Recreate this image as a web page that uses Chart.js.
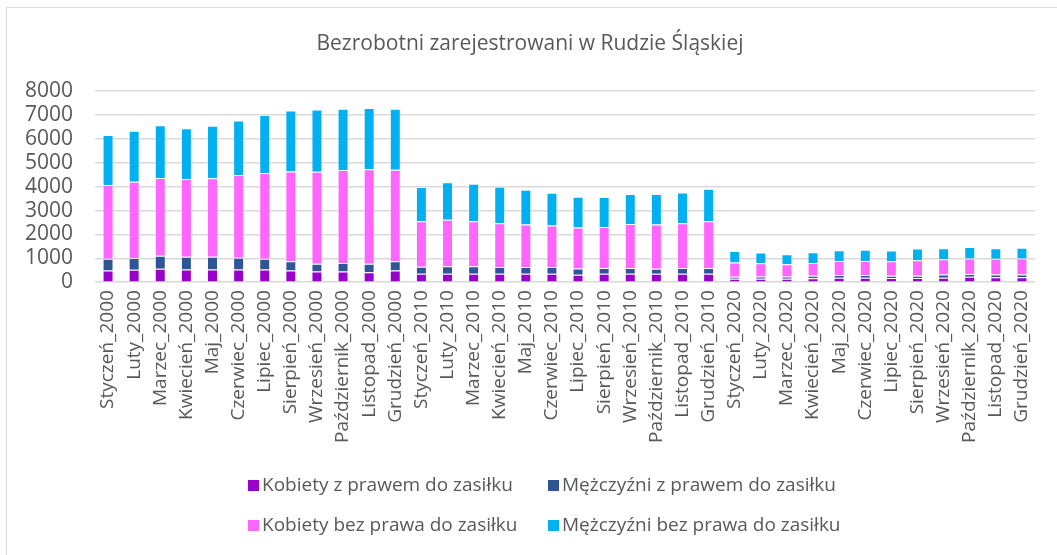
<!DOCTYPE html>
<html>
<head>
<meta charset="utf-8">
<script src="https://cdn.jsdelivr.net/npm/chart.js@4.4.1/dist/chart.umd.min.js"></script>
<style>
    body { margin: 0; background: #fff; }
    #wrap { position: relative; width: 1057px; height: 555px; overflow: hidden; }
    #frame { position: absolute; left: 6px; top: 7px; width: 1100px; height: 600px;
             border-left: 1.5px solid #d9d9d9; border-top: 1.5px solid #d9d9d9; }
    #legend { position: absolute; left: 0; top: 0; font-family: "Open Sans", sans-serif;
              font-size: 19px; color: #595959; }
    .item { position: absolute; white-space: nowrap; line-height: 24px; }
    .box { display: inline-block; width: 11px; height: 11px; margin-right: 3px; vertical-align: 0px; }
</style>
</head>
<body>
<div id="wrap">
    <div id="frame"></div>
    <canvas id="bezrobotniChart" width="1057" height="555"></canvas>
    <div id="legend"></div>
</div>
<script>
// Dane
const months = ['Styczeń', 'Luty', 'Marzec', 'Kwiecień', 'Maj', 'Czerwiec', 'Lipiec',
                'Sierpień', 'Wrzesień', 'Październik', 'Listopad', 'Grudzień'];
const years = ['2000', '2010', '2020'];

const kobietyZPrawem = [
    490, 520, 560, 530, 530, 530, 530, 490, 450, 450, 410, 490,
    350, 350, 350, 350, 350, 350, 310, 350, 350, 350, 350, 350,
    145, 145, 145, 160, 185, 185, 170, 170, 185, 230, 200, 200
];
const mezczyzniZPrawem = [
    490, 490, 545, 530, 530, 490, 450, 390, 320, 350, 360, 390,
    295, 320, 320, 280, 280, 280, 265, 240, 240, 210, 240, 240,
    85, 95, 95, 110, 115, 115, 100, 100, 130, 115, 115, 115
];
const kobietyBezPrawa = [
    3090, 3200, 3260, 3260, 3290, 3470, 3590, 3760, 3850, 3900, 3960, 3830,
    1910, 1940, 1880, 1840, 1780, 1740, 1710, 1725, 1850, 1850, 1880, 1960,
    590, 550, 510, 530, 590, 590, 605, 645, 645, 645, 660, 675
];
const mezczyzniBezPrawa = [
    2100, 2130, 2210, 2130, 2200, 2280, 2430, 2550, 2610, 2560, 2570, 2550,
    1430, 1570, 1570, 1530, 1460, 1375, 1290, 1250, 1250, 1280, 1290, 1360,
    480, 450, 420, 455, 450, 465, 450, 495, 465, 480, 450, 450
];

const labels = [];
years.forEach(function(y) {
    months.forEach(function(m) { labels.push(m + '_' + y); });
});

const fontFamily = '"Open Sans", sans-serif';
const textColor = '#595959';

document.addEventListener('DOMContentLoaded', function() {
    const ctx = document.getElementById('bezrobotniChart');
    const chart = new Chart(ctx, {
        type: 'bar',
        data: {
            labels: labels,
            datasets: [
                { label: 'Kobiety z prawem do zasiłku', data: kobietyZPrawem, backgroundColor: '#9900cc' },
                { label: 'Mężczyźni z prawem do zasiłku', data: mezczyzniZPrawem, backgroundColor: '#2f5597' },
                { label: 'Kobiety bez prawa do zasiłku', data: kobietyBezPrawa, backgroundColor: '#ff66ff' },
                { label: 'Mężczyźni bez prawa do zasiłku', data: mezczyzniBezPrawa, backgroundColor: '#00b0f0' }
            ].map(function(ds) {
                ds.borderColor = 'rgba(255,255,255,0.3)';
                ds.borderWidth = 1;
                ds.barPercentage = 0.42;
                ds.categoryPercentage = 1;
                return ds;
            })
        },
        options: {
            responsive: false,
            animation: false,
            layout: { padding: { top: 8, left: 25, right: 22, bottom: 104 } },
            scales: {
                x: {
                    stacked: true,
                    grid: { display: false, drawTicks: false },
                    border: { display: false },
                    ticks: {
                        autoSkip: false,
                        minRotation: 90,
                        maxRotation: 90,
                        padding: 8,
                        color: textColor,
                        font: { family: fontFamily, size: 19 }
                    }
                },
                y: {
                    stacked: true,
                    min: 0,
                    max: 8000,
                    grid: { color: '#d9d9d9', lineWidth: 1.5, drawTicks: false },
                    border: { display: false },
                    afterFit: function(scale) { scale.width = 70; },
                    ticks: {
                        stepSize: 1000,
                        autoSkip: false,
                        padding: 22,
                        color: textColor,
                        font: { family: fontFamily, size: 21 },
                        callback: function(value) { return String(value); }
                    }
                }
            },
            plugins: {
                legend: { display: false },
                tooltip: { enabled: false },
                title: {
                    display: true,
                    text: 'Bezrobotni zarejestrowani w Rudzie Śląskiej',
                    color: textColor,
                    font: { family: fontFamily, size: 21, weight: 'normal' },
                    padding: { top: 23, bottom: 35 }
                }
            }
        }
    });

    // legenda w dwóch kolumnach, jak w oryginale
    const legend = document.getElementById('legend');
    const spots = [[248, 472], [548, 472], [248, 512], [548, 512]];
    chart.data.datasets.forEach(function(ds, i) {
        const el = document.createElement('div');
        el.className = 'item';
        el.style.left = spots[i][0] + 'px';
        el.style.top = spots[i][1] + 'px';
        el.innerHTML = '<span class="box" style="background:' + ds.backgroundColor + '"></span>' + ds.label;
        legend.appendChild(el);
    });
});
</script>
</body>
</html>
